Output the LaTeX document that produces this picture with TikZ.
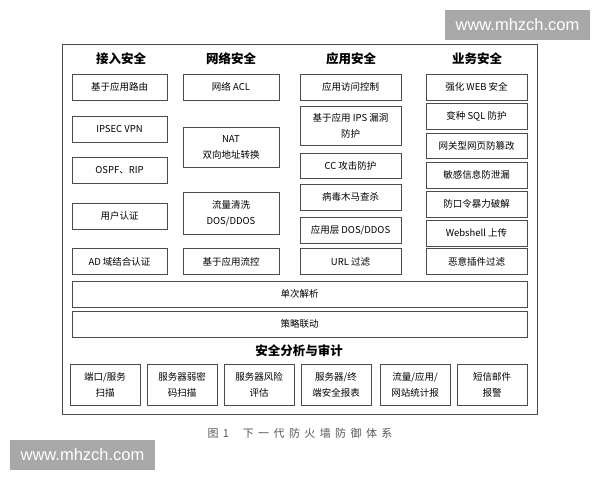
\documentclass[tikz,border=0pt]{standalone}
\usepackage{fontspec}
\setmainfont{Noto Sans CJK SC}
\newfontfamily\wmfont{Liberation Sans}
\newfontfamily\capfont[LetterSpace=40]{Noto Sans CJK SC}
\usepackage{tikz}
\definecolor{boxline}{rgb}{0.3,0.3,0.3}
\definecolor{wmgray}{rgb}{0.66,0.66,0.66}
\definecolor{capgray}{rgb}{0.35,0.35,0.35}
\tikzset{box/.style = {draw=boxline,line width=0.9pt,inner sep=0pt,align=center,minimum height=26pt,font=\fontsize{9.5}{16}\selectfont}}
\tikzset{head/.style = {font=\fontsize{12.5}{14}\selectfont\bfseries}}
\tikzset{mark box/.style = {fill=wmgray,text=white,inner sep=0pt,font=\wmfont\fontsize{16.5}{18}\selectfont}}

\begin{document}
\begin{tikzpicture}[x=1pt,y=-1pt]
			\useasboundingbox (0,0) rectangle (600,480);
			\node [draw=boxline,line width=1pt,minimum width=474.3pt,minimum height=369.5pt] (frame) at (299.85,229.25) {};
			\begin{scope}[every node/.style={head}]
			    \node (acc) at (121,59) {接入安全};
			    \node (net) at (231,59) {网络安全};
			    \node (app) at (351,59) {应用安全};
			    \node (biz) at (477,59) {业务安全};
			    \node (audit) at (299,351) {安全分析与审计};
			\end{scope}
			\begin{scope}[every node/.style={box,minimum width=95pt}]
			    \node (a1) at (119.5,87) {基于应用路由};
			    \node (a2) at (119.5,129.5) {IPSEC VPN};
			    \node (a3) at (119.5,170) {OSPF、RIP};
			    \node (a4) at (119.5,216) {用户认证};
			    \node (a5) at (119.5,261.5) {AD 域结合认证};
			\end{scope}
			\begin{scope}[every node/.style={box,minimum width=96pt}]
			    \node (n1) at (231,87) {网络 ACL};
			    \node [minimum height=40pt] (n2) at (231,147) {NAT\\双向地址转换};
			    \node [minimum height=42pt] (n3) at (231,213) {流量清洗\\DOS/DDOS};
			    \node (n4) at (231,261.5) {基于应用流控};
			\end{scope}
			\begin{scope}[every node/.style={box,minimum width=101pt}]
			    \node (p1) at (350.5,87) {应用访问控制};
			    \node [minimum height=39pt] (p2) at (350.5,125.5) {基于应用 IPS 漏洞\\防护};
			    \node [minimum height=25pt] (p3) at (350.5,165.5) {CC 攻击防护};
			    \node (p4) at (350.5,197) {病毒木马查杀};
			    \node (p5) at (350.5,230) {应用层 DOS/DDOS};
			    \node (p6) at (350.5,261.5) {URL 过滤};
			\end{scope}
			\begin{scope}[every node/.style={box,minimum width=101pt}]
			    \node (b1) at (476.5,87) {强化 WEB 安全};
			    \node (b2) at (476.5,116) {变种 SQL 防护};
			    \node [minimum height=25pt] (b3) at (476.5,145.5) {网关型网页防篡改};
			    \node (b4) at (476.5,175) {敏感信息防泄漏};
			    \node (b5) at (476.5,204) {防口令暴力破解};
			    \node (b6) at (476.5,233) {Webshell 上传};
			    \node (b7) at (476.5,261.5) {恶意插件过滤};
			\end{scope}
			\begin{scope}[every node/.style={box,minimum width=455pt}]
			    \node (parse) at (299.5,294) {单次解析};
			    \node (link) at (299.5,324) {策略联动};
			\end{scope}
			\begin{scope}[every node/.style={box,minimum width=70pt,minimum height=41pt}]
			    \node (s1) at (105,384.5) {端口/服务\\扫描};
			    \node (s2) at (182,384.5) {服务器弱密\\码扫描};
			    \node (s3) at (259,384.5) {服务器风险\\评估};
			    \node (s4) at (336,384.5) {服务器/终\\端安全报表};
			    \node (s5) at (415,384.5) {流量/应用/\\网站统计报};
			    \node (s6) at (492,384.5) {短信邮件\\报警};
			\end{scope}
			\node [text=capgray,font=\capfont\fontsize{11}{12}\selectfont] (cap) at (300,433) {图1\ \ 下一代防火墙防御体系};
			\node [mark box,minimum width=145pt,minimum height=30pt] (wm1) at (82.5,455) {www.mhzch.com};
			\node [mark box,minimum width=145pt,minimum height=30pt] (wm2) at (517.5,25) {www.mhzch.com};
		\end{tikzpicture}
\end{document}
